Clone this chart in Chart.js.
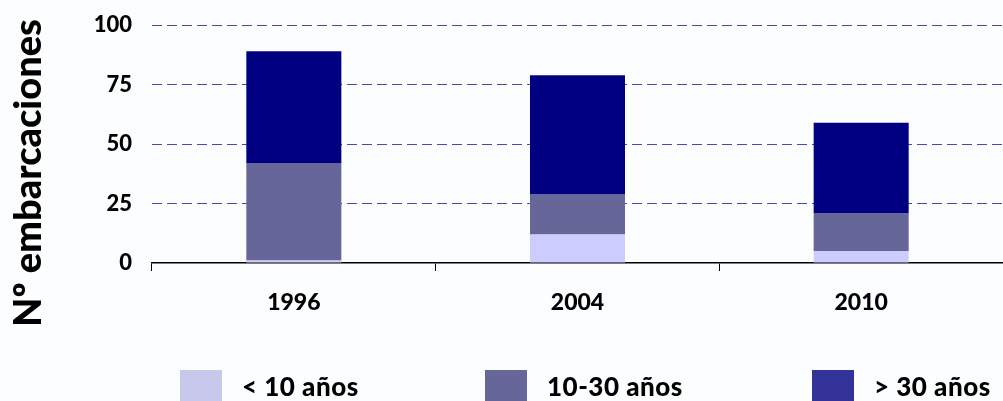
<!DOCTYPE html>
<html>
<head>
<meta charset="utf-8">
<script src="https://cdn.jsdelivr.net/npm/chart.js@4/dist/chart.umd.min.js"></script>
<style>
  html, body { margin: 0; padding: 0; background: #fbfdfe; }
  #wrap { width: 1003px; height: 401px; position: relative; }
</style>
</head>
<body>
<div id="wrap"><canvas id="fleetChart"></canvas></div>
<script>
// data
const years = ['1996', '2004', '2010'];
const under10 = [1, 12, 5];
const from10to30 = [41, 17, 16];
const over30 = [47, 50, 38];
const seriesLabels = ['< 10 años', '10-30 años', '> 30 años'];
const yTicks = [0, 25, 50, 75, 100];

const FONT = 'Lato';
const barColors = ['#ccccff', '#666699', '#000080'];
const legendColors = ['#c8c8ec', '#666699', '#333399'];

// y title + legend drawn by hand so they sit where the original has them
const extras = {
    id: 'extras',
    afterDraw(chart) {
        const ctx = chart.ctx;
        ctx.save();
        ctx.fillStyle = '#000';
        ctx.font = '900 38px ' + FONT;
        ctx.translate(29, 173);
        ctx.rotate(-Math.PI / 2);
        ctx.textAlign = 'center';
        ctx.textBaseline = 'middle';
        ctx.fillText('Nº embarcaciones', 0, 0);
        ctx.restore();

        const xs = [180, 485, 812];
        ctx.save();
        ctx.font = '900 26px ' + FONT;
        ctx.letterSpacing = '0.5px';
        ctx.textBaseline = 'middle';
        chart.data.datasets.forEach((ds, i) => {
            ctx.fillStyle = legendColors[i];
            ctx.fillRect(xs[i], 370, 42, 31);
            ctx.fillStyle = '#000';
            ctx.fillText(ds.label, xs[i] + 62, 388);
        });
        ctx.restore();
    }
};

const ctx = document.getElementById('fleetChart').getContext('2d');
const fleetChart = new Chart(ctx, {
    type: 'bar',
    data: {
        labels: years,
        datasets: [
            { label: seriesLabels[0], data: under10, backgroundColor: barColors[0] },
            { label: seriesLabels[1], data: from10to30, backgroundColor: barColors[1] },
            { label: seriesLabels[2], data: over30, backgroundColor: barColors[2] }
        ]
    },
    options: {
        responsive: true,
        maintainAspectRatio: false,
        animation: false,
        categoryPercentage: 0.335,
        barPercentage: 1,
        layout: { padding: 0 },
        plugins: {
            legend: { display: false },
            tooltip: { enabled: false }
        },
        scales: {
            x: {
                stacked: true,
                afterFit: s => { s.height = 138; },
                border: { display: true, color: '#000', width: 1.5 },
                grid: { display: true, drawOnChartArea: false, drawTicks: true, tickLength: 8, color: '#000', offset: true },
                ticks: { color: '#000', padding: 18, font: { family: FONT, size: 23, weight: 900 } }
            },
            y: {
                stacked: true,
                min: 0,
                max: 100,
                afterFit: s => { s.width = 152; },
                afterBuildTicks: s => { s.ticks = yTicks.map(v => ({ value: v })); },
                border: { display: false, dash: [10, 5] },
                grid: {
                    drawTicks: true,
                    tickLength: 8,
                    tickColor: 'rgba(0,0,0,0)',
                    color: c => c.tick.value === 0 ? 'rgba(0,0,0,0)' : '#4848b0',
                    lineWidth: 1
                },
                ticks: { color: '#000', padding: 12, font: { family: FONT, size: 22, weight: 900 } }
            }
        }
    },
    plugins: [extras]
});
</script>
</body>
</html>
